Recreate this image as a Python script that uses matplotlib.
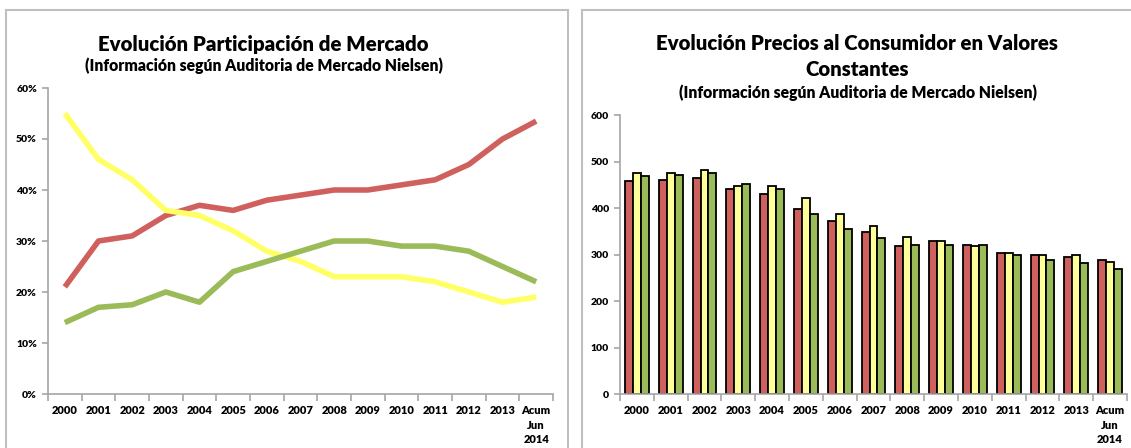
import numpy as np
import matplotlib.pyplot as plt
from matplotlib.patches import Rectangle
from matplotlib.ticker import PercentFormatter

plt.rcParams['font.family'] = ['Lato', 'DejaVu Sans']

# Data
years = ['2000', '2001', '2002', '2003', '2004', '2005', '2006', '2007',
         '2008', '2009', '2010', '2011', '2012', '2013', 'Acum\nJun\n2014']

share_red = [21, 30, 31, 35, 37, 36, 38, 39, 40, 40, 41, 42, 45, 50, 53.5]
share_yellow = [55, 46, 42, 36, 35, 32, 28, 26, 23, 23, 23, 22, 20, 18, 19]
share_green = [14, 17, 17.5, 20, 18, 24, 26, 28, 30, 30, 29, 29, 28, 25, 22]

price_red = [458, 461, 464, 441, 431, 398, 371, 348, 318, 328, 321, 304, 298, 295, 288]
price_yellow = [475, 475, 481, 448, 448, 421, 388, 361, 338, 328, 318, 304, 298, 298, 284]
price_green = [468, 471, 475, 451, 441, 388, 355, 335, 321, 321, 321, 298, 288, 281, 268]

red = '#D0605E'
yellow = '#FFFF66'
yellow_bar = '#FFFF99'
green = '#9BBB59'
axis_gray = '#A6A6A6'

fig = plt.figure(figsize=(11.31, 4.48), dpi=100)

# panel borders
for x0, x1 in [(6, 568), (582, 1140)]:
    fig.patches.append(Rectangle((x0 / 1131, -0.1), (x1 - x0) / 1131, 1.1 - 10 / 448,
                                 transform=fig.transFigure, fill=False,
                                 edgecolor='#BFBFBF', lw=1.5))

x = np.arange(len(years))


def style_axes(ax):
    for s in ['top', 'right']:
        ax.spines[s].set_visible(False)
    for s in ['left', 'bottom']:
        ax.spines[s].set_color(axis_gray)
        ax.spines[s].set_linewidth(1.2)
    ax.set_xlim(-0.5, len(years) - 0.5)
    ax.set_xticks(x)
    ax.set_xticklabels(years, fontsize=8, fontweight='heavy', linespacing=1.4,
                       va='top')
    ax.tick_params(axis='x', length=0, pad=8)
    ax.set_xticks(np.arange(-0.5, len(years)), minor=True)
    ax.tick_params(axis='x', which='minor', length=5, color=axis_gray, width=1.2)
    ax.tick_params(axis='y', length=4, color=axis_gray, width=1.2, labelsize=7.5, pad=4)
    for lab in ax.get_yticklabels():
        lab.set_fontweight('heavy')


# left: market share lines
ax1 = fig.add_axes([48 / 1131, 54 / 448, 505 / 1131, 306 / 448])
ax1.plot(x, share_red, color=red, lw=4, solid_capstyle='butt')
ax1.plot(x, share_yellow, color=yellow, lw=4, solid_capstyle='butt')
ax1.plot(x, share_green, color=green, lw=4, solid_capstyle='butt')
ax1.set_ylim(0, 60)
ax1.set_yticks(range(0, 61, 10))
ax1.yaxis.set_major_formatter(PercentFormatter(decimals=0))
style_axes(ax1)

fig.text(263 / 1131, 1 - 44 / 448, 'Evolución Participación de Mercado',
         ha='center', va='center', fontsize=14.7, fontweight='heavy')
fig.text(264 / 1131, 1 - 66 / 448, '(Información según Auditoria de Mercado Nielsen)',
         ha='center', va='center', fontsize=11.3, fontweight='heavy')

# right: price bars
ax2 = fig.add_axes([620 / 1131, 54 / 448, 507 / 1131, 279 / 448])
w = 0.235
ax2.bar(x - w, price_red, w, color=red, edgecolor='black', lw=1.3)
ax2.bar(x, price_yellow, w, color=yellow_bar, edgecolor='black', lw=1.3)
ax2.bar(x + w, price_green, w, color=green, edgecolor='black', lw=1.3)
ax2.set_ylim(0, 600)
ax2.set_yticks(range(0, 601, 100))
style_axes(ax2)

fig.text(857 / 1131, 1 - 44 / 448, 'Evolución Precios al Consumidor en Valores',
         ha='center', va='center', fontsize=14.7, fontweight='heavy')
fig.text(857 / 1131, 1 - 69 / 448, 'Constantes',
         ha='center', va='center', fontsize=14.7, fontweight='heavy')
fig.text(858 / 1131, 1 - 93 / 448, '(Información según Auditoria de Mercado Nielsen)',
         ha='center', va='center', fontsize=11.3, fontweight='heavy')

fig.savefig('out.png', dpi=100)
